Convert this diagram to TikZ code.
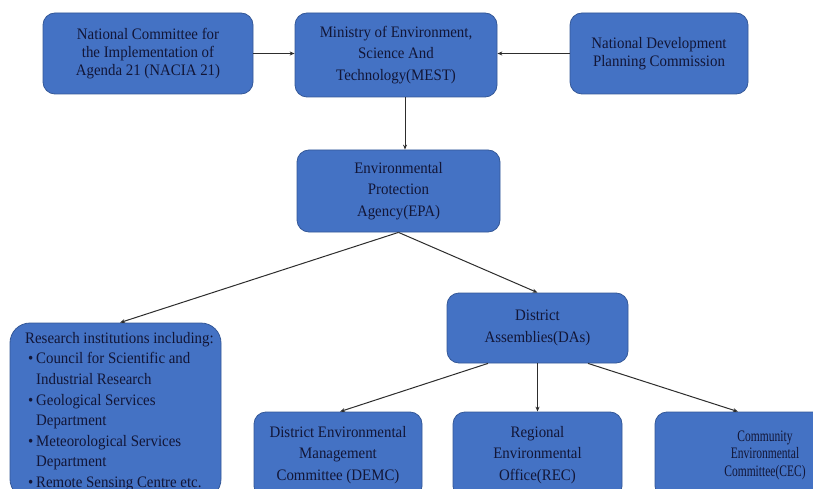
\documentclass[tikz,border=0pt]{standalone}
\usepackage{fontspec}
\setmainfont{Liberation Serif}[FakeStretch=0.93]
\newfontfamily\narrowfont{Liberation Serif}[FakeStretch=0.72]
\usetikzlibrary{arrows.meta}
\definecolor{boxfill}{RGB}{68,114,196}
\definecolor{boxline}{RGB}{52,88,152}
\definecolor{txtc}{RGB}{18,22,55}
\definecolor{arrc}{RGB}{45,45,45}
\begin{document}
\begin{tikzpicture}[x=1pt,y=-1pt,
  box/.style={draw=boxline, line width=0.8pt, fill=boxfill, rounded corners=12pt,
    text=txtc, align=center, inner sep=0pt, font=\fontsize{16}{21.4}\selectfont},
  tight/.style={font=\fontsize{16}{17.8}\selectfont},
  conn/.style={draw=arrc, line width=1pt, -{Stealth[length=5pt,width=4pt]}}]
\useasboundingbox (0,0) rectangle (813,489);
\clip (0,0) rectangle (813,489);
\fill[white] (0,0) rectangle (813,489);

\node[box, tight, minimum width=210pt, minimum height=81pt] (nacia) at (148,53.5)
  {National Committee for\\the Implementation of\\Agenda 21 (NACIA 21)};
\node[box, minimum width=202pt, minimum height=84pt] (mest) at (396,55)
  {Ministry of Environment,\\Science And\\Technology(MEST)};
\node[box, tight, minimum width=178pt, minimum height=81pt] (ndpc) at (659,53.5)
  {National Development\\Planning Commission};
\node[box, minimum width=203pt, minimum height=82pt] (epa) at (398.5,191)
  {Environmental\\Protection\\Agency(EPA)};
\node[box, rounded corners=20pt, minimum width=211pt, minimum height=176pt] (res) at (115.5,411) {};
\node[anchor=north west, inner sep=0pt, align=left, text=txtc,
  font=\fontsize{16}{20.6}\selectfont] (restext) at (25,332)
  {Research institutions including:\\
   \makebox[11pt][l]{\hspace{3pt}\textbullet}Council for Scientific and\\
   \hspace*{11pt}Industrial Research\\
   \makebox[11pt][l]{\hspace{3pt}\textbullet}Geological Services\\
   \hspace*{11pt}Department\\
   \makebox[11pt][l]{\hspace{3pt}\textbullet}Meteorological Services\\
   \hspace*{11pt}Department\\
   \makebox[11pt][l]{\hspace{3pt}\textbullet}Remote Sensing Centre etc.};
\node[box, minimum width=181pt, minimum height=70pt] (da) at (537.5,328)
  {District\\Assemblies(DAs)};
\node[box, minimum width=168pt, minimum height=86pt] (demc) at (338,455)
  {District Environmental\\Management\\Committee (DEMC)};
\node[box, minimum width=169pt, minimum height=86pt] (rec) at (537.5,455)
  {Regional\\Environmental\\Office(REC)};
\node[box, minimum width=220pt, minimum height=86pt, font=\narrowfont\fontsize{16}{17.5}\selectfont] (cec) at (765,455)
  {Community\\Environmental\\Committee(CEC)};

\draw[conn] (nacia.east) -- (nacia.east -| mest.west);
\draw[conn] (ndpc.west) -- (ndpc.west -| mest.east);
\draw[conn] ([xshift=9pt]mest.south) -- ([xshift=9pt]mest.south |- epa.north);
\draw[conn] (epa.south) -- ([xshift=4.5pt]res.north);
\draw[conn] (epa.south) -- (da.north);
\draw[conn] ([xshift=-49.5pt]da.south) -- ([xshift=2pt]demc.north);
\draw[conn] (da.south) -- (da.south |- rec.north);
\draw[conn] ([xshift=50.5pt]da.south) -- ([xshift=-27pt]cec.north);
\end{tikzpicture}
\end{document}
